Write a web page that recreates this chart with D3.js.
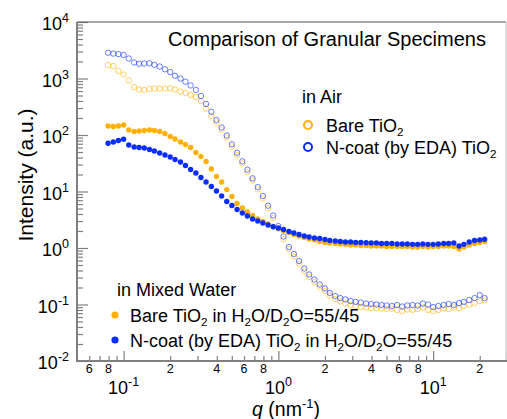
<!DOCTYPE html>
<html>
<head>
<meta charset="utf-8">
<script src="https://cdn.jsdelivr.net/npm/d3@7"></script>
<style>
  html, body { margin: 0; padding: 0; background: #fff; }
  svg { display: block; font-family: "Liberation Sans", Arial, Helvetica, sans-serif; }
</style>
</head>
<body>
<svg id="chart" width="507" height="419"></svg>
<script>
// ---- data ----
const qValues = [0.0794,0.0858,0.0926,0.100,0.108,0.117,0.126,0.136,0.147,0.158,
  0.171,0.185,0.200,0.215,0.233,0.251,0.271,0.293,0.316,0.341,
  0.369,0.398,0.430,0.464,0.501,0.541,0.585,0.631,0.681,0.736,
  0.794,0.858,0.926,1.00,1.08,1.17,1.26,1.36,1.47,1.58,
  1.71,1.85,2.00,2.15,2.33,2.51,2.71,2.93,3.16,3.41,
  3.69,3.98,4.30,4.64,5.01,5.41,5.85,6.31,6.81,7.36,
  7.94,8.58,9.26,10.0,10.8,11.7,12.6,13.6,14.7,15.8,
  17.1,18.5,20.0,21.5];

const bareAir = [1730,1660,1360,1180,922,707,639,626,652,665,
  665,665,668,639,589,554,511,471,400,294,
  217,166,125,90.3,62.6,44.3,31.3,22.1,15.7,10.9,
  7.52,5.11,3.40,2.21,1.44,0.960,0.707,0.532,0.392,0.307,
  0.250,0.204,0.173,0.144,0.125,0.113,0.104,0.098,0.094,0.090,
  0.0885,0.0867,0.0867,0.0850,0.0832,0.085,0.080,0.0767,0.0816,0.080,
  0.083,0.0885,0.080,0.0767,0.080,0.085,0.083,0.0885,0.0867,0.094,
  0.100,0.106,0.115,0.118];

const ncoatAir = [2860,2760,2700,2610,2260,1920,1820,1840,1860,1750,
  1630,1455,1300,1120,996,878,755,626,490,354,
  258,184,136,98.0,68.5,48.6,34.2,24.3,17.1,12.0,
  8.33,5.61,3.76,2.45,1.60,1.04,0.783,0.589,0.434,0.340,
  0.277,0.226,0.192,0.160,0.141,0.130,0.123,0.115,0.111,0.108,
  0.104,0.102,0.100,0.098,0.096,0.094,0.098,0.092,0.096,0.098,
  0.096,0.104,0.100,0.090,0.094,0.098,0.102,0.098,0.106,0.111,
  0.120,0.130,0.147,0.130];

const bareWater = [144,141,144,150,123,115,118,120,123,120,
  115,106,94.1,85.0,75.2,67.9,60.1,49.0,41.6,34.0,
  25.0,18.4,14.7,10.8,8.16,6.13,5.11,4.34,3.76,3.26,
  2.94,2.66,2.40,2.21,2.04,1.88,1.73,1.63,1.53,1.44,
  1.39,1.30,1.25,1.23,1.20,1.18,1.16,1.13,1.13,1.11,
  1.11,1.085,1.085,1.085,1.06,1.06,1.06,1.06,1.06,1.04,
  1.04,1.06,1.04,1.06,1.06,1.085,1.085,1.06,0.960,1.04,
  1.13,1.20,1.25,1.30];

const ncoatWater = [71.3,75.2,79.9,83.9,66.5,61.3,60.1,58.9,55.4,52.1,
  48.0,44.3,40.8,36.8,33.3,28.9,24.5,21.3,17.7,14.7,
  12.3,10.2,8.33,6.65,5.65,4.80,4.16,3.68,3.26,3.01,
  2.77,2.55,2.38,2.26,2.13,1.96,1.84,1.73,1.63,1.57,
  1.50,1.47,1.41,1.36,1.33,1.30,1.28,1.28,1.25,1.25,
  1.24,1.23,1.23,1.20,1.20,1.20,1.18,1.18,1.18,1.16,
  1.16,1.18,1.16,1.16,1.18,1.20,1.20,1.23,1.085,1.16,
  1.28,1.36,1.39,1.43];

const yMajorExponents = [-2,-1,0,1,2,3,4];
const xMajorExponents = [-1,0,1];
const xMinorLabelValues = [0.06,0.08,0.2,0.4,0.6,0.8,2,4,6,8,20];
const xMinorLabels = ["6","8","2","4","6","8","2","4","6","8","2"];

const title = "Comparison of Granular Specimens";

// ---- layout ----
const svg = d3.select("#chart");
const L = 77, R = 507, T = 22, B = 361;

const x = d3.scaleLog().domain([0.05, 30]).range([L, R]);
const y = d3.scaleLog().domain([0.01, 10000]).range([B, T]);

const C_OR = "#ffb000", C_BL = "#0a2dff";
const axisGray = "#808080";

// minor tick values
const yMinor = [];
yMajorExponents.slice(0, -1).forEach(e => { for (let m = 2; m <= 9; m++) yMinor.push(m * Math.pow(10, e)); });
const yMajor = yMajorExponents.map(e => Math.pow(10, e));
const xMinor = [];
[-2,-1,0,1].forEach(e => { for (let m = 2; m <= 9; m++) { const v = m * Math.pow(10, e); if (v >= 0.05 && v <= 30) xMinor.push(v); } });
const xMajor = xMajorExponents.map(e => Math.pow(10, e));

// ---- axes (ticks inward) ----
function styleAxis(g) {
  g.select(".domain").remove();
  g.selectAll(".tick line").attr("stroke", axisGray).attr("stroke-width", 1.2);
  g.selectAll(".tick text").remove();
}
svg.append("g").attr("transform", `translate(${L},0)`)
  .call(d3.axisLeft(y).tickValues(yMinor).tickSizeInner(-6).tickSizeOuter(0).tickFormat(""))
  .call(styleAxis);
svg.append("g").attr("transform", `translate(${L},0)`)
  .call(d3.axisLeft(y).tickValues(yMajor).tickSizeInner(-11).tickSizeOuter(0).tickFormat(""))
  .call(styleAxis);
svg.append("g").attr("transform", `translate(0,${B})`)
  .call(d3.axisBottom(x).tickValues(xMinor).tickSizeInner(-5).tickSizeOuter(0).tickFormat(""))
  .call(styleAxis);
svg.append("g").attr("transform", `translate(0,${B})`)
  .call(d3.axisBottom(x).tickValues(xMajor).tickSizeInner(-10).tickSizeOuter(0).tickFormat(""))
  .call(styleAxis);

// frame
svg.append("line").attr("x1", L).attr("x2", 506).attr("y1", T).attr("y2", T).attr("stroke", "#555").attr("stroke-width", 1);
svg.append("line").attr("x1", 506).attr("x2", 506).attr("y1", T).attr("y2", B).attr("stroke", "#bbb").attr("stroke-width", 1);
svg.append("line").attr("x1", L).attr("x2", L).attr("y1", T).attr("y2", B + 1).attr("stroke", axisGray).attr("stroke-width", 2);
svg.append("line").attr("x1", L - 1).attr("x2", 507).attr("y1", B).attr("y2", B).attr("stroke", axisGray).attr("stroke-width", 2);

// y tick labels
yMajorExponents.forEach(e => {
  const t = svg.append("text").attr("x", 69).attr("y", y(Math.pow(10, e)) + 8)
    .attr("text-anchor", "end").attr("font-size", 18).attr("fill", "#000");
  t.append("tspan").text("10");
  t.append("tspan").attr("font-size", 12.5).attr("dy", -8).text(String(e));
});
// x labels
xMinorLabelValues.forEach((v, i) => {
  svg.append("text").attr("x", x(v)).attr("y", 373).attr("text-anchor", "middle")
    .attr("font-size", 12.5).attr("fill", "#000").text(xMinorLabels[i]);
});
xMajorExponents.forEach(e => {
  const t = svg.append("text").attr("x", x(Math.pow(10, e))).attr("y", 393.5)
    .attr("text-anchor", "middle").attr("font-size", 18).attr("fill", "#000");
  t.append("tspan").text("10");
  t.append("tspan").attr("font-size", 12.5).attr("dy", -8).text(String(e));
});

// axis titles
const xt = svg.append("text").attr("x", 286).attr("y", 415.5).attr("text-anchor", "middle").attr("font-size", 19.5);
xt.append("tspan").attr("font-style", "italic").text("q");
xt.append("tspan").text(" (nm");
xt.append("tspan").attr("font-size", 13).attr("dy", -8).text("-1");
xt.append("tspan").attr("dy", 8).text(")");

svg.append("text").attr("transform", "translate(33,175) rotate(-90)").attr("text-anchor", "middle")
  .attr("font-size", 21).text("Intensity (a.u.)");

// ---- data marks ----
function openSeries(vals, color) {
  svg.append("g").selectAll("circle").data(qValues.map((q, i) => [q, vals[i]])).join("circle")
    .attr("cx", d => x(d[0])).attr("cy", d => y(d[1])).attr("r", 2.7)
    .attr("fill", "none").attr("stroke", color).attr("stroke-opacity", 0.6).attr("stroke-width", 1);
}
function filledSeries(vals, color) {
  svg.append("g").selectAll("circle").data(qValues.map((q, i) => [q, vals[i]])).join("circle")
    .attr("cx", d => x(d[0])).attr("cy", d => y(d[1])).attr("r", 2.7).attr("fill", color);
}
openSeries(bareAir, C_OR);
openSeries(ncoatAir, C_BL);
filledSeries(bareWater, C_OR);
filledSeries(ncoatWater, C_BL);

// ---- title & legends ----
svg.append("text").attr("x", 168).attr("y", 46).attr("font-size", 20).text(title);

function subText(xp, yp, size, parts) {
  const t = svg.append("text").attr("x", xp).attr("y", yp).attr("font-size", size);
  let sub = false;
  parts.forEach(p => {
    if (p.sub) {
      t.append("tspan").attr("font-size", size * 0.65).attr("dy", 4).text(p.sub);
      sub = true;
    } else {
      t.append("tspan").attr("dy", sub ? -4 : 0).text(p.t);
      sub = false;
    }
  });
  return t;
}

svg.append("text").attr("x", 302).attr("y", 103).attr("font-size", 18).text("in Air");
svg.append("circle").attr("cx", 308).attr("cy", 125).attr("r", 4).attr("fill", "none").attr("stroke", C_OR).attr("stroke-width", 2);
subText(326, 131.5, 18, [{t: "Bare TiO"}, {sub: "2"}]);
svg.append("circle").attr("cx", 308).attr("cy", 147).attr("r", 4).attr("fill", "none").attr("stroke", C_BL).attr("stroke-width", 2);
subText(326, 153.5, 18, [{t: "N-coat (by EDA) TiO"}, {sub: "2"}]);

svg.append("text").attr("x", 117).attr("y", 296).attr("font-size", 18).text("in Mixed Water");
svg.append("circle").attr("cx", 115).attr("cy", 315).attr("r", 3.6).attr("fill", C_OR);
subText(130, 321.5, 18, [{t: "Bare TiO"}, {sub: "2"}, {t: " in H"}, {sub: "2"}, {t: "O/D"}, {sub: "2"}, {t: "O=55/45"}]);
svg.append("circle").attr("cx", 115).attr("cy", 340).attr("r", 3.6).attr("fill", C_BL);
subText(130, 346.5, 18, [{t: "N-coat (by EDA) TiO"}, {sub: "2"}, {t: " in H"}, {sub: "2"}, {t: "O/D"}, {sub: "2"}, {t: "O=55/45"}]);
</script>
</body>
</html>
